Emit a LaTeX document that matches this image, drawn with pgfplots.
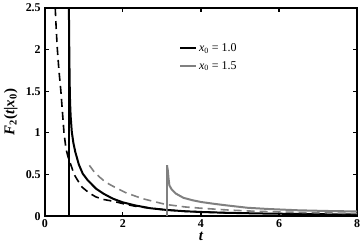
\documentclass[border=0pt]{standalone}
\usepackage{fontspec}
\setmainfont{Liberation Serif}
\usepackage{pgfplots}
\pgfplotsset{compat=1.18}
\definecolor{mygray}{RGB}{128,128,128}
\begin{document}
\fontsize{12}{14}\selectfont
\begin{tikzpicture}
\begin{axis}[
  width=312bp, height=208bp, scale only axis,
  xmin=0, xmax=8, ymin=0, ymax=2.5,
  xtick={0,2,4,6,8}, ytick={0,0.5,1,1.5,2,2.5},
  tick align=inside, major tick length=4bp,
  axis line style={line width=1.3bp},
  every tick/.style={line width=1.1bp, black},
  /pgf/number format/assume math mode=true,
  tick label style={font=\fontsize{12}{14}\selectfont\bfseries},
  xticklabel style={yshift=1bp},
  xlabel={\fontsize{15}{16}\selectfont\bfseries\itshape t},
  ylabel={\fontsize{15}{16}\selectfont\bfseries\itshape F\textsubscript{\upshape 2}\upshape(\itshape t\upshape|\itshape x\textsubscript{\upshape 0}\upshape)},
  xlabel style={yshift=3bp},
  ylabel style={yshift=0bp},
  legend style={at={(0.42,0.85)}, anchor=north west, draw=none, fill=none,
    font=\fontsize{12}{14}\selectfont, row sep=4bp},
  legend cell align=left,
  legend image code/.code={\draw[#1] (0bp,0bp) -- (16bp,0bp);},
  clip=true,
]
% x0 = 1.0 solid black
\addplot[black, line width=2bp] coordinates {
 (0.615,2.5) (0.625,2.0) (0.635,1.6) (0.645,1.37) (0.66,1.2) (0.69,1.01) (0.73,0.88)
 (0.78,0.77) (0.87,0.62) (0.97,0.51) (1.1,0.43) (1.31,0.33) (1.5,0.27) (1.74,0.21)
 (2.0,0.165) (2.3,0.13) (2.7,0.095) (3.1,0.075) (3.6,0.058) (4.0,0.05) (4.64,0.04)
 (5.5,0.032) (6.5,0.026) (8.0,0.02)};
\addlegendentry{\itshape x\textsubscript{\upshape 0}\upshape\ = 1.0}
% x0 = 1.5 solid gray
\addplot[mygray, line width=2bp] coordinates {
 (3.13,0.61) (3.15,0.55) (3.17,0.45) (3.19,0.37) (3.25,0.32) (3.36,0.27) (3.55,0.22)
 (3.79,0.19) (4.0,0.17) (4.3,0.15) (4.64,0.13) (5.2,0.1) (5.75,0.085) (6.5,0.07)
 (7.2,0.062) (8.0,0.056)};
\addlegendentry{\itshape x\textsubscript{\upshape 0}\upshape\ = 1.5}
% vertical lines
\addplot[black, line width=2bp, forget plot] coordinates {(0.61,0) (0.61,2.5)};
\addplot[mygray, line width=2bp, forget plot] coordinates {(3.12,0) (3.12,0.61)};
% dashed black
\addplot[black, line width=1.6bp, dash pattern=on 8bp off 5bp, forget plot] coordinates {
 (0.265,2.5) (0.29,2.25) (0.32,2.0) (0.36,1.75) (0.41,1.5) (0.45,1.25) (0.49,1.0)
 (0.54,0.81) (0.6,0.7) (0.67,0.61) (0.75,0.5) (0.84,0.43) (0.95,0.35) (1.05,0.31)
 (1.2,0.26) (1.31,0.23) (1.5,0.2) (1.74,0.18) (2.0,0.15) (2.3,0.12) (2.7,0.095)
 (3.1,0.075) (3.6,0.058) (4.0,0.05) (4.64,0.04) (5.0,0.037)};
% dashed gray
\addplot[mygray, line width=1.6bp, dash pattern=on 8bp off 5bp, forget plot] coordinates {
 (1.14,0.61) (1.25,0.54) (1.4,0.47) (1.55,0.41) (1.74,0.36) (2.08,0.28) (2.5,0.21)
 (3.1,0.14) (3.6,0.11) (4.0,0.095) (4.64,0.075) (5.2,0.062) (6.0,0.05) (7.0,0.04) (8.0,0.032)};
\end{axis}
\end{tikzpicture}
\end{document}
